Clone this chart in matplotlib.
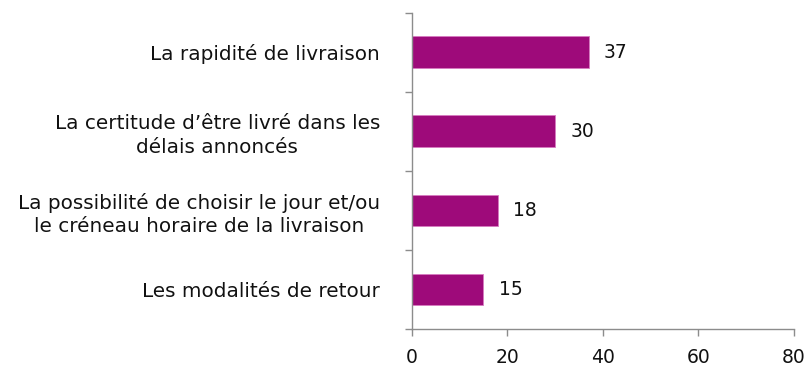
import matplotlib
matplotlib.use("Agg")
import matplotlib.pyplot as plt

categories = [
    "La rapidité de livraison",
    "La certitude d’être livré dans les\ndélais annoncés",
    "La possibilité de choisir le jour et/ou\nle créneau horaire de la livraison",
    "Les modalités de retour",
]
values = [37, 30, 18, 15]
x_ticks = [0, 20, 40, 60, 80]

bar_color = "#9E0A7A"
axis_color = "#8C8C8C"
text_color = "#111111"

fig = plt.figure(figsize=(8.06, 3.67), dpi=100)
ax = fig.add_axes([0.511, 0.1035, 0.474, 0.862])

pos = list(range(len(categories)))[::-1]
ax.barh(pos, values, height=0.4, color=bar_color,
        edgecolor="#D77BC0", linewidth=0.6)

for y, v in zip(pos, values):
    ax.annotate(f"{v}", xy=(v, y), xytext=(11, 0), textcoords="offset points",
                va="center", ha="left", fontsize=13.5, color=text_color)

ax.set_xlim(0, 80)
ax.set_ylim(-0.5, len(categories) - 0.5)
ax.set_xticks(x_ticks)
ax.set_xticklabels([str(t) for t in x_ticks], fontsize=13.5, color=text_color)

# category boundaries carry the tick marks, labels sit at bar centres
ax.set_yticks([p - 0.5 for p in range(len(categories) + 1)])
ax.set_yticklabels([])
ax.set_yticks(pos, minor=True)
ax.set_yticklabels(categories, minor=True, fontsize=14.4, color=text_color,
                   multialignment="center", linespacing=1.3)
ax.tick_params(axis="y", which="minor", length=0, pad=23)
ax.tick_params(axis="y", which="major", length=5, color=axis_color, width=1)
ax.tick_params(axis="x", length=5, color=axis_color, width=1, pad=9)

for side in ("top", "right"):
    ax.spines[side].set_visible(False)
for side in ("left", "bottom"):
    ax.spines[side].set_color(axis_color)
    ax.spines[side].set_linewidth(1)

fig.savefig("out.png", dpi=100, facecolor="white")
